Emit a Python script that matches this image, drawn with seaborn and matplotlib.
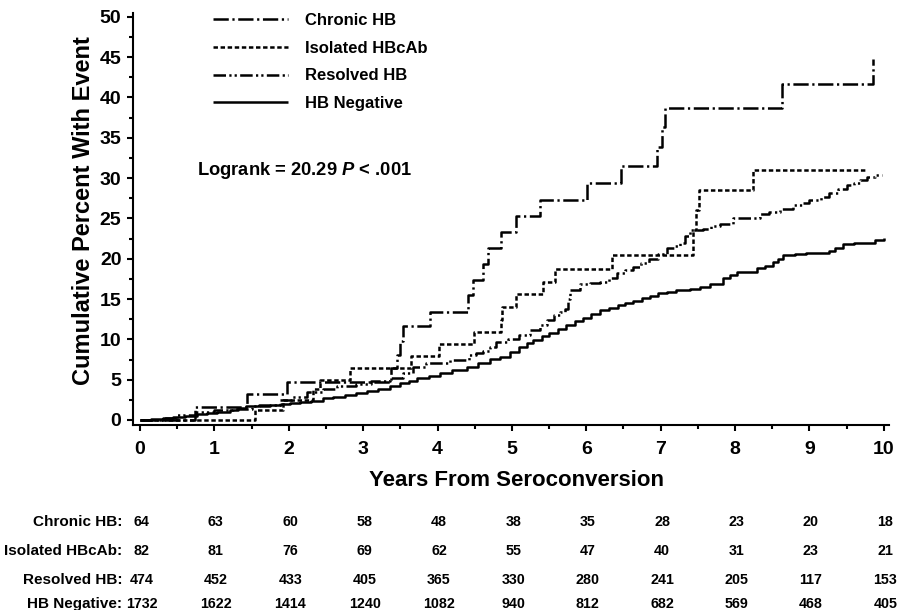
import matplotlib
matplotlib.use("Agg")
import matplotlib.pyplot as plt
import matplotlib.transforms as mtransforms
from matplotlib.ticker import MultipleLocator
import seaborn as sns
import numpy as np

# ---------------- data ----------------
chronic_t = [0, 0.74, 1.44, 1.98, 3.38, 3.46, 3.49, 3.53, 3.90, 4.41, 4.48, 4.61, 4.68,
             4.86, 5.06, 5.38, 6.01, 6.47, 6.95, 7.02, 7.06, 8.63, 9.85]
chronic_v = [0, 1.6, 3.2, 4.75, 6.4, 8.1, 9.8, 11.6, 13.4, 15.5, 17.3, 19.4, 21.3,
             23.3, 25.3, 27.3, 29.4, 31.5, 33.9, 36.3, 38.7, 41.6, 44.7]

isolated_t = [0, 1.55, 1.92, 2.33, 2.42, 2.82, 3.65, 4.02, 4.49, 4.85, 4.87, 5.05,
              5.42, 5.58, 6.34, 7.44, 7.47, 7.52, 8.24, 9.77]
isolated_v = [0, 1.3, 2.5, 3.9, 5.0, 6.5, 7.9, 9.4, 10.9, 12.4, 14.0, 15.6,
              17.1, 18.7, 20.4, 23.5, 26.0, 28.5, 31.0, 31.0]

resolved_t = [0, 0.3, 0.5, 0.75, 1.0, 1.25, 1.5, 1.75, 1.88, 2.05, 2.24, 2.46, 2.65,
              2.91, 3.1, 3.36, 3.54, 3.67, 3.85, 4.17, 4.43, 4.52, 4.61, 4.70, 4.79,
              4.95, 5.1, 5.25, 5.38, 5.47, 5.56, 5.65, 5.71, 5.75, 5.78, 5.91, 6.05,
              6.18, 6.3, 6.41, 6.52, 6.63, 6.74, 6.85, 6.97, 7.08, 7.18, 7.26, 7.33,
              7.39, 7.57, 7.68, 7.8, 7.97, 8.33, 8.45, 8.6, 8.78, 8.9, 9.0, 9.15,
              9.27, 9.38, 9.5, 9.6, 9.68, 9.78, 9.88, 9.97]
resolved_v = [0, 0.3, 0.6, 1.0, 1.2, 1.4, 1.7, 1.9, 2.5, 2.8, 3.5, 3.9, 4.2,
              4.5, 4.8, 5.2, 5.8, 6.6, 7.1, 7.5, 8.05, 8.3, 8.5, 9.0, 9.7,
              10.1, 10.5, 11.1, 11.8, 12.4, 13.0, 13.4, 13.8, 15.0, 16.1, 16.9, 17.0,
              17.1, 17.6, 18.2, 18.6, 19.0, 19.5, 20.0, 20.6, 21.3, 21.6, 21.9, 22.8,
              23.5, 23.7, 24.0, 24.3, 25.0, 25.6, 25.8, 26.1, 26.6, 26.9, 27.3, 27.7,
              28.2, 28.6, 29.1, 29.4, 29.8, 30.1, 30.4, 30.4]

negative_t = [0, 0.15, 0.31, 0.45, 0.6, 0.76, 0.9, 1.03, 1.21, 1.32, 1.43, 1.6, 1.75,
              1.9, 2.02, 2.15, 2.3, 2.46, 2.6, 2.75, 2.91, 3.05, 3.2, 3.36, 3.5, 3.62,
              3.72, 3.88, 4.03, 4.2, 4.39, 4.55, 4.7, 4.84, 4.97, 5.1, 5.2, 5.29, 5.4,
              5.5, 5.62, 5.73, 5.85, 5.95, 6.07, 6.18, 6.3, 6.42, 6.52, 6.63, 6.75,
              6.86, 6.97, 7.08, 7.2, 7.39, 7.53, 7.66, 7.84, 7.93, 8.02, 8.29, 8.4,
              8.51, 8.58, 8.65, 8.8, 8.96, 9.27, 9.35, 9.45, 9.6, 9.77, 9.88, 10.0]
negative_v = [0, 0.1, 0.2, 0.38, 0.55, 0.8, 0.9, 1.03, 1.3, 1.5, 1.7, 1.8, 1.9,
              2.0, 2.07, 2.2, 2.35, 2.7, 2.85, 3.1, 3.4, 3.6, 3.9, 4.2, 4.55, 4.85,
              5.2, 5.5, 5.8, 6.2, 6.6, 7.1, 7.6, 7.8, 8.4, 9.1, 9.5, 9.9, 10.4,
              10.8, 11.3, 11.8, 12.3, 12.7, 13.1, 13.6, 13.9, 14.3, 14.5, 14.7, 15.1,
              15.4, 15.7, 15.9, 16.1, 16.3, 16.5, 16.9, 17.6, 18.0, 18.4, 18.8, 19.1,
              19.6, 20.0, 20.4, 20.6, 20.7, 20.9, 21.3, 21.8, 21.9, 22.0, 22.3, 22.6]

series_names = ["Chronic HB", "Isolated HBcAb", "Resolved HB", "HB Negative"]

risk_years = [0, 1, 2, 3, 4, 5, 6, 7, 8, 9, 10]
risk_labels = ["Chronic HB:", "Isolated HBcAb:", "Resolved HB:", "HB Negative:"]
risk_chronic = [64, 63, 60, 58, 48, 38, 35, 28, 23, 20, 18]
risk_isolated = [82, 81, 76, 69, 62, 55, 47, 40, 31, 23, 21]
risk_resolved = [474, 452, 433, 405, 365, 330, 280, 241, 205, 117, 153]
risk_negative = [1732, 1622, 1414, 1240, 1082, 940, 812, 682, 569, 468, 405]

# ---------------- style ----------------
sns.set_theme(style="ticks")
plt.rcParams["font.family"] = ["Liberation Sans", "DejaVu Sans"]
plt.rcParams["font.weight"] = "bold"
plt.rcParams["lines.scale_dashes"] = False
plt.rcParams["mathtext.fontset"] = "custom"
plt.rcParams["mathtext.it"] = "Liberation Sans:italic:bold"
plt.rcParams["mathtext.rm"] = "Liberation Sans:bold"

fig = plt.figure(figsize=(8.97, 6.10), dpi=100)
fig.patch.set_facecolor("white")
ax = fig.add_axes([133 / 897, (610 - 425) / 610, 756 / 897, 412.3 / 610])
ax.set_facecolor("white")

styles = [
    (chronic_t, chronic_v, (11, 2.6, 1.6, 2.6)),
    (isolated_t, isolated_v, (3.2, 1.9)),
    (resolved_t, resolved_v, (9, 2.4, 1.6, 2.2, 1.6, 2.4)),
    (negative_t, negative_v, None),
]
for name, (t, v, dash) in zip(series_names, styles):
    sns.lineplot(x=t, y=v, ax=ax, color="black", linewidth=1.8,
                 drawstyle="steps-post", estimator=None, sort=False, label=name)
    line = ax.lines[-1]
    if dash is not None:
        line.set_dashes(dash)
    line.set_solid_capstyle("butt")

ax.set_xlim(-0.094, 10.07)
ax.set_ylim(-0.62, 50.5)
ax.xaxis.set_major_locator(MultipleLocator(1))
ax.xaxis.set_minor_locator(MultipleLocator(0.5))
ax.yaxis.set_major_locator(MultipleLocator(5))
ax.yaxis.set_minor_locator(MultipleLocator(2.5))

for s in ["top", "right"]:
    ax.spines[s].set_visible(False)
for s in ["left", "bottom"]:
    ax.spines[s].set_linewidth(1.5)
    ax.spines[s].set_color("black")

ax.tick_params(which="major", direction="out", length=4.3, width=1.5, color="black",
               labelsize=14, labelcolor="black")
ax.tick_params(axis="y", which="major", pad=4)
ax.tick_params(axis="x", which="major", pad=7)
ax.tick_params(which="minor", direction="out", length=3, width=1.5, color="black")
for lab in ax.get_xticklabels() + ax.get_yticklabels():
    lab.set_fontweight("bold")

ax.set_xlabel("Years From Seroconversion", fontsize=16, fontweight="bold", color="black")
ax.set_ylabel("Cumulative Percent With Event", fontsize=17, fontweight="bold", color="black")
ax.xaxis.set_label_coords(0.507, -0.108)
ax.yaxis.set_label_coords(-0.050, 0.52)

leg = ax.legend(loc="upper left", bbox_to_anchor=(0.1058, 1.0), frameon=False,
                fontsize=12, handlelength=4.5, handletextpad=1.0, labelspacing=0.77,
                borderpad=0, borderaxespad=0)
for txt in leg.get_texts():
    txt.set_fontweight("bold")
    txt.set_color("black")

ax.text(0.0847, 0.618, r"Logrank = 20.29 $\mathit{P}$ < .001", transform=ax.transAxes,
        fontsize=13.2, fontweight="bold", va="center", ha="left", color="black")

# number at risk table
trans = mtransforms.blended_transform_factory(ax.transData, fig.transFigure)
row_y = [522, 551, 580, 604]
risk_rows = [risk_chronic, risk_isolated, risk_resolved, risk_negative]
for lbl, vals, py in zip(risk_labels, risk_rows, row_y):
    fy = 1 - py / 610
    fig.text(122 / 897, fy, lbl, ha="right", va="center", fontsize=11,
             fontweight="bold", color="black")
    for yr, n in zip(risk_years, vals):
        ax.text(yr + 0.02, fy, str(n), transform=trans, ha="center", va="center",
                fontsize=10.3, fontweight="bold", color="black", clip_on=False)

fig.savefig("out.png", dpi=100, facecolor="white")
